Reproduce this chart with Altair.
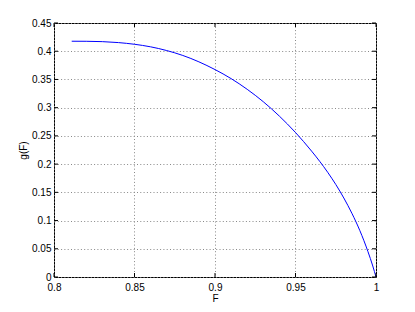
import altair as alt
import pandas as pd

F_vals = [0.811, 0.82, 0.83, 0.84, 0.85, 0.86, 0.87, 0.88, 0.89, 0.90,
          0.91, 0.92, 0.93, 0.94, 0.95, 0.96, 0.965, 0.97, 0.975, 0.98,
          0.985, 0.99, 0.995, 0.998, 1.0]
g_vals = [0.4177, 0.4176, 0.4170, 0.4153, 0.4123, 0.4078, 0.4012, 0.3925, 0.3812, 0.3675,
          0.3515, 0.3325, 0.3105, 0.2850, 0.2560, 0.2230, 0.2050, 0.1855, 0.1640, 0.1400,
          0.1130, 0.0820, 0.0450, 0.0195, 0.0]

x_ticks = [0.8, 0.85, 0.9, 0.95, 1.0]
y_ticks = [0, 0.05, 0.1, 0.15, 0.2, 0.25, 0.3, 0.35, 0.4, 0.45]

W, H = 322, 254
FONT = "Liberation Sans"

df = pd.DataFrame({"F": F_vals, "g": g_vals})
xt = pd.DataFrame({"v": x_ticks})
yt = pd.DataFrame({"v": y_ticks})

xscale = alt.Scale(domain=[0.8, 1.0], nice=False, zero=False)
yscale = alt.Scale(domain=[0, 0.45], nice=False)

line = alt.Chart(df).mark_line(color="#0000ff", strokeWidth=1, clip=True,
                               interpolate="monotone").encode(
    x=alt.X("F:Q", scale=xscale, title="F",
            axis=alt.Axis(values=x_ticks, tickCount=20, format="~g", grid=True,
                          domain=False, ticks=False,
                          labelOverlap=False, labelFlush=False,
                          labelPadding=5, titleX=W / 2, titleY=21, titleBaseline="middle")),
    y=alt.Y("g:Q", scale=yscale, title="g(F)",
            axis=alt.Axis(values=y_ticks, tickCount=20, format="~g", grid=True,
                          domain=False, ticks=False,
                          labelOverlap=False, labelFlush=False,
                          labelPadding=3, titleX=-30.5, titleY=H / 2, titleBaseline="middle")),
)

tick_len = 4
bottom_ticks = alt.Chart(xt).mark_rule(color="black", strokeWidth=1).encode(
    x=alt.X("v:Q", scale=xscale), y=alt.value(H), y2=alt.value(H - tick_len))
top_ticks = alt.Chart(xt).mark_rule(color="black", strokeWidth=1).encode(
    x=alt.X("v:Q", scale=xscale), y=alt.value(0), y2=alt.value(tick_len))
left_ticks = alt.Chart(yt).mark_rule(color="black", strokeWidth=1).encode(
    y=alt.Y("v:Q", scale=yscale), x=alt.value(0), x2=alt.value(tick_len))
right_ticks = alt.Chart(yt).mark_rule(color="black", strokeWidth=1).encode(
    y=alt.Y("v:Q", scale=yscale), x=alt.value(W), x2=alt.value(W - tick_len))

chart = alt.layer(line, bottom_ticks, top_ticks, left_ticks, right_ticks).properties(
    width=W, height=H,
    autosize=alt.AutoSizeParams(type="none"),
    padding={"left": 46, "top": 15, "right": 31, "bottom": 27},
    background="white",
).configure_view(
    stroke="black", strokeWidth=1
).configure_axis(
    labelFont=FONT, labelFontSize=10, labelColor="black",
    titleFont=FONT, titleFontSize=10, titleColor="black", titleFontWeight="normal",
    gridColor="#888888", gridDash=[1, 2.3], gridWidth=1, gridOpacity=1,
)

chart.save("out.html", embed_options={"renderer": "svg", "actions": False})
